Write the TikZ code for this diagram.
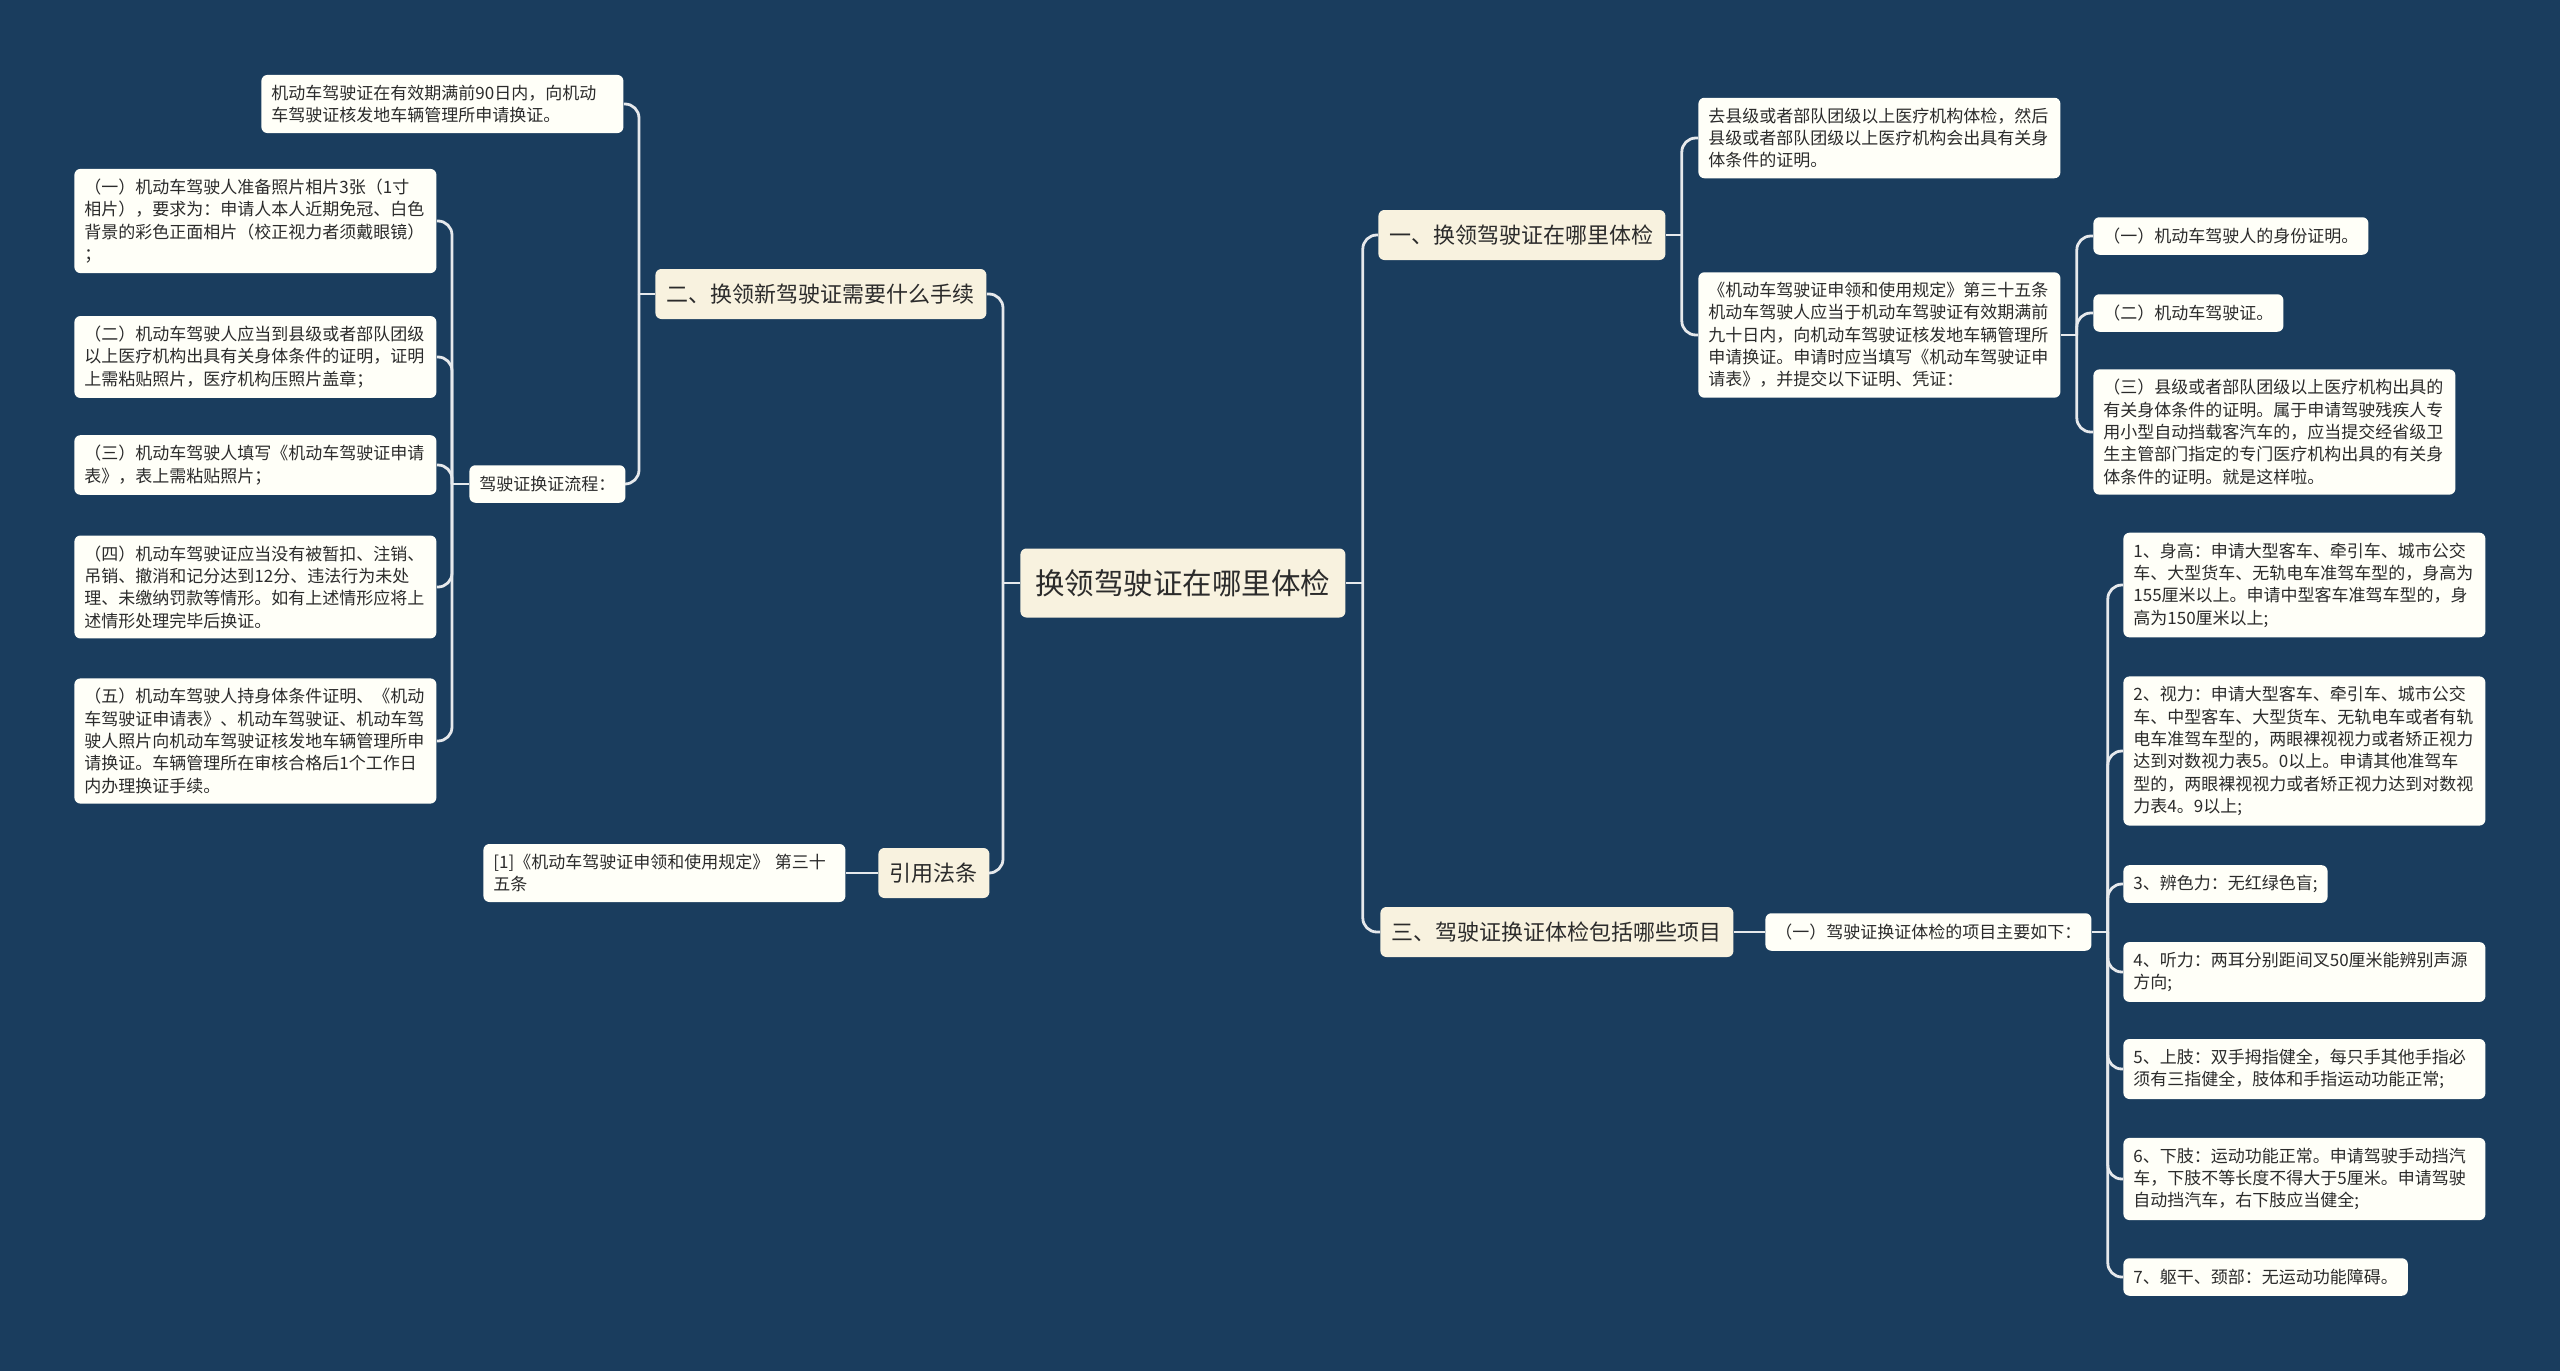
\documentclass[tikz,border=0pt]{standalone}
\usepackage{fontspec}
\newfontfamily\cjk{Noto Sans CJK SC}
\definecolor{bg}{HTML}{1A3D5E}
\definecolor{lf}{HTML}{FFFFF8}
\definecolor{br}{HTML}{F8F2DF}
\definecolor{ln}{HTML}{E6E9EC}
\definecolor{tx}{HTML}{2B2B2B}
\begin{document}
\begin{tikzpicture}[x=0.5pt,y=-0.5pt,
 base/.style={rounded corners=3pt, text=tx, inner ysep=5pt, anchor=west},
 rootbox/.style={base, fill=br, font=\cjk\fontsize{14.75}{18}\selectfont, inner xsep=7.5pt, minimum height=34.5pt},
 branch/.style={base, fill=br, font=\cjk\fontsize{11}{13}\selectfont, inner xsep=5.75pt, minimum height=25pt},
 leaf/.style={base, fill=lf, font=\cjk\fontsize{8.5}{11.15}\selectfont, inner xsep=5pt, minimum height=18.75pt},
 wide/.style={leaf, text width=171pt, align=left},
 conn/.style={draw=ln, line width=1.4pt},
 elbow/.style={conn, rounded corners=7pt}]
\useasboundingbox (0,0) rectangle (2560,1371);
\fill[bg] (0,0) rectangle (2560,1371);
% root and branches
\node[rootbox] (root) at (1020,583) {换领驾驶证在哪里体检};
\node[branch] (b1) at (655,294) {二、换领新驾驶证需要什么手续};
\node[branch] (b2) at (878,873) {引用法条};
\node[branch] (r1) at (1378,235) {一、换领驾驶证在哪里体检};
\node[branch] (r2) at (1380,932) {三、驾驶证换证体检包括哪些项目};
% left side
\node[wide] (l1a) at (261,104) {机动车驾驶证在有效期满前90日内，向机动\\车驾驶证核发地车辆管理所申请换证。};
\node[leaf] (l1b) at (469,484) {驾驶证换证流程：};
\node[wide] (i1) at (74,221) {（一）机动车驾驶人准备照片相片3张（1寸\\相片），要求为：申请人本人近期免冠、白色\\背景的彩色正面相片（校正视力者须戴眼镜）\\；};
\node[wide] (i2) at (74,357) {（二）机动车驾驶人应当到县级或者部队团级\\以上医疗机构出具有关身体条件的证明，证明\\上需粘贴照片，医疗机构压照片盖章；};
\node[wide] (i3) at (74,465) {（三）机动车驾驶人填写《机动车驾驶证申请\\表》，表上需粘贴照片；};
\node[wide] (i4) at (74,587) {（四）机动车驾驶证应当没有被暂扣、注销、\\吊销、撤消和记分达到12分、违法行为未处\\理、未缴纳罚款等情形。如有上述情形应将上\\述情形处理完毕后换证。};
\node[wide] (i5) at (74,741) {（五）机动车驾驶人持身体条件证明、《机动\\车驾驶证申请表》、机动车驾驶证、机动车驾\\驶人照片向机动车驾驶证核发地车辆管理所申\\请换证。车辆管理所在审核合格后1个工作日\\内办理换证手续。};
\node[wide] (ref) at (483,873) {[1]《机动车驾驶证申领和使用规定》 第三十\\五条};
% right side, branch one
\node[wide] (r1a) at (1698,138) {去县级或者部队团级以上医疗机构体检，然后\\县级或者部队团级以上医疗机构会出具有关身\\体条件的证明。};
\node[wide] (r1b) at (1698,335) {《机动车驾驶证申领和使用规定》第三十五条\\机动车驾驶人应当于机动车驾驶证有效期满前\\九十日内，向机动车驾驶证核发地车辆管理所\\申请换证。申请时应当填写《机动车驾驶证申\\请表》，并提交以下证明、凭证：};
\node[leaf] (c1) at (2093,236) {（一）机动车驾驶人的身份证明。};
\node[leaf] (c2) at (2093,313) {（二）机动车驾驶证。};
\node[wide] (c3) at (2093,432) {（三）县级或者部队团级以上医疗机构出具的\\有关身体条件的证明。属于申请驾驶残疾人专\\用小型自动挡载客汽车的，应当提交经省级卫\\生主管部门指定的专门医疗机构出具的有关身\\体条件的证明。就是这样啦。};
% right side, branch three
\node[leaf] (r2a) at (1765,932) {（一）驾驶证换证体检的项目主要如下：};
\node[wide] (p1) at (2123,585) {1、身高：申请大型客车、牵引车、城市公交\\车、大型货车、无轨电车准驾车型的，身高为\\155厘米以上。申请中型客车准驾车型的，身\\高为150厘米以上;};
\node[wide] (p2) at (2123,751) {2、视力：申请大型客车、牵引车、城市公交\\车、中型客车、大型货车、无轨电车或者有轨\\电车准驾车型的，两眼裸视视力或者矫正视力\\达到对数视力表5。0以上。申请其他准驾车\\型的，两眼裸视视力或者矫正视力达到对数视\\力表4。9以上;};
\node[leaf] (p3) at (2123,884) {3、辨色力：无红绿色盲;};
\node[wide] (p4) at (2123,972) {4、听力：两耳分别距间叉50厘米能辨别声源\\方向;};
\node[wide] (p5) at (2123,1069) {5、上肢：双手拇指健全，每只手其他手指必\\须有三指健全，肢体和手指运动功能正常;};
\node[wide] (p6) at (2123,1179) {6、下肢：运动功能正常。申请驾驶手动挡汽\\车，下肢不等长度不得大于5厘米。申请驾驶\\自动挡汽车，右下肢应当健全;};
\node[leaf] (p7) at (2123,1277) {7、躯干、颈部：无运动功能障碍。};
% connectors
\coordinate (jl) at ([xshift=-8.5pt]root.west);
\coordinate (jr) at ([xshift=8.5pt]root.east);
\coordinate (jb1) at ([xshift=-8pt]b1.west);
\coordinate (jl1b) at ([xshift=-8.5pt]l1b.west);
\coordinate (jr1) at ([xshift=8pt]r1.east);
\coordinate (jr1b) at ([xshift=8pt]r1b.east);
\coordinate (jr2a) at ([xshift=8pt]r2a.east);
\draw[conn] (root.west) -- (jl);
\draw[elbow] (jl) |- (b1.east);
\draw[elbow] (jl) |- (b2.east);
\draw[conn] (root.east) -- (jr);
\draw[elbow] (jr) |- (r1.west);
\draw[elbow] (jr) |- (r2.west);
\draw[conn] (b1.west) -- (jb1);
\draw[elbow] (jb1) |- (l1a.east);
\draw[elbow] (jb1) |- (l1b.east);
\draw[conn] (l1b.west) -- (jl1b);
\foreach \n in {i1,i2,i3,i4,i5} {\draw[elbow] (jl1b) |- (\n.east);}
\draw[conn] (b2.west) -- (ref.east);
\draw[conn] (r1.east) -- (jr1);
\draw[elbow] (jr1) |- (r1a.west);
\draw[elbow] (jr1) |- (r1b.west);
\draw[conn] (r1b.east) -- (jr1b);
\foreach \n in {c1,c2,c3} {\draw[elbow] (jr1b) |- (\n.west);}
\draw[conn] (r2.east) -- (r2a.west);
\draw[conn] (r2a.east) -- (jr2a);
\foreach \n in {p1,p2,p3,p4,p5,p6,p7} {\draw[elbow] (jr2a) |- (\n.west);}
\end{tikzpicture}
\end{document}
